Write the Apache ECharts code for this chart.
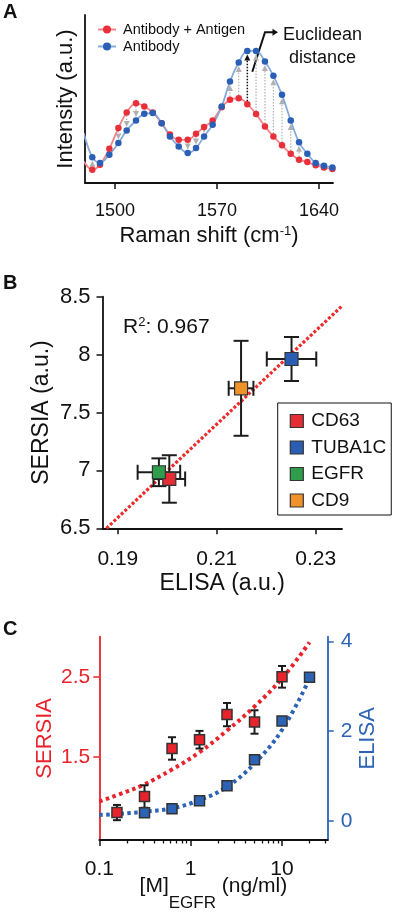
<!DOCTYPE html>
<html><head><meta charset="utf-8">
<script src="https://cdn.jsdelivr.net/npm/echarts@6/dist/echarts.min.js"></script>
<style>html,body{margin:0;padding:0;background:#fff}#chart{width:400px;height:912px}</style>
</head><body><div id="chart"></div><script>
// ---------- Panel A data ----------
const ramanShift = [1478.5, 1484.4, 1489.7, 1496.1, 1502.3, 1508.0, 1514.4, 1520.1, 1525.9, 1532.0, 1537.7, 1543.7, 1549.9, 1555.6, 1561.1, 1567.0, 1573.2, 1578.9, 1584.9, 1590.8, 1596.8, 1602.9, 1608.7, 1614.6, 1620.6, 1626.3, 1632.0, 1637.7, 1643.4, 1649.2];
const antibodyAntigen = [12.9, 7.9, 10.9, 20.4, 32.7, 42.0, 47.5, 45.5, 42.0, 35.6, 28.9, 25.7, 25.7, 29.3, 33.3, 37.2, 45.1, 49.5, 50.5, 46.9, 41.0, 33.7, 27.7, 22.4, 17.4, 13.9, 12.5, 10.5, 9.3, 8.3];
const antibody = [29.7, 15.4, 11.9, 16.8, 23.8, 31.3, 37.2, 41.2, 41.6, 35.6, 27.7, 21.8, 17.8, 20.8, 27.7, 34.7, 45.5, 60.4, 71.7, 78.6, 78.6, 72.3, 63.8, 52.5, 37.2, 24.2, 17.4, 11.9, 10.3, 9.3];
const arrowIdx = [1, 4, 5, 6, 11, 12, 13, 14, 17, 18, 20, 21, 22, 23, 24, 25];
const blackArrowIdx = [19];
const ramanTicks = [1500, 1570, 1640];

// ---------- Panel B data ----------
const markers = ['CD63', 'TUBA1C', 'EGFR', 'CD9'];
const markerColors = ['#e52d35', '#2b5eb3', '#2f9d4b', '#ef9229'];
const elisaB = [0.2004, 0.2251, 0.1983, 0.2149];
const elisaBErr = [0.0032, 0.0050, 0.0043, 0.0025];
const sersiaB = [6.926, 7.962, 6.984, 7.709];
const sersiaBErr = [0.205, 0.19, 0.12, 0.41];
const fitX = [0.1877, 0.2353];
const fitY = [6.5, 8.42];
const elisaTicksB = [0.19, 0.21, 0.23];

// ---------- Panel C data ----------
const conc = [0.156, 0.3125, 0.625, 1.25, 2.5, 5, 10, 20];
const sersiaC = [0.808, 1.008, 1.607, 1.716, 2.029, 1.937, 2.5, null];
const sersiaCErr = [0.095, 0.14, 0.14, 0.11, 0.145, 0.146, 0.135, null];
const elisaC = [null, 0.179, 0.27, 0.447, 0.782, 1.36, 2.228, 3.204];
const fitConc = [0.1, 0.2, 0.3, 0.625, 1.25, 2.5, 5, 10, 20];
const sersiaFit = [0.945, 1.07, 1.15, 1.345, 1.56, 1.83, 2.13, 2.48, 2.93];
const elisaFit = [0.127, 0.165, 0.2, 0.277, 0.46, 0.76, 1.28, 2.03, 3.17];
const decadeTicks = [0.1, 1, 10];
const minorTicksC = [0.2, 0.3, 0.4, 0.5, 0.6, 0.7, 0.8, 0.9, 2, 3, 4, 5, 6, 7, 8, 9, 20, 30];
const sersiaTicksC = [1.5, 2.5];
const elisaTicksC = [0, 2, 4];

const FONT = 'Liberation Sans, Arial, Helvetica, sans-serif';
const BLACK = '#111';
const RED = '#e8232b';
const BLUE = '#2c63b5';
const xMaxC = Math.pow(10, 1.5);

function arrowRenderer(color, dash, width) {
  return function (params, api) {
    const x = api.value(0);
    const p1 = api.coord([x, api.value(1)]);
    const p2 = api.coord([x, api.value(2)]);
    const dir = p2[1] > p1[1] ? 1 : -1;
    const tipY = p2[1] - dir * 3.5;
    const baseY = tipY - dir * 6;
    const startY = p1[1] + dir * 3;
    return {
      type: 'group', children: [
        { type: 'line', shape: { x1: p1[0], y1: startY, x2: p1[0], y2: baseY }, style: { stroke: color, lineWidth: width, lineDash: dash } },
        { type: 'polygon', shape: { points: [[p1[0] - 3, baseY], [p1[0] + 3, baseY], [p1[0], tipY]] }, style: { fill: color } }
      ]
    };
  };
}

function errLine(x1, y1, x2, y2) {
  return { type: 'line', shape: { x1, y1, x2, y2 }, style: { stroke: '#1c1c1c', lineWidth: 2 } };
}

function errRendererB(params, api) {
  const x = api.value(0), y = api.value(1), ex = api.value(2), ey = api.value(3);
  const c = api.coord([x, y]);
  const top = api.coord([x, y + ey])[1], bot = api.coord([x, y - ey])[1];
  const left = api.coord([x - ex, y])[0], right = api.coord([x + ex, y])[0];
  const cap = 7.5;
  return {
    type: 'group', children: [
      errLine(c[0], top, c[0], bot),
      errLine(c[0] - cap, top, c[0] + cap, top),
      errLine(c[0] - cap, bot, c[0] + cap, bot),
      errLine(left, c[1], right, c[1]),
      errLine(left, c[1] - cap, left, c[1] + cap),
      errLine(right, c[1] - cap, right, c[1] + cap)
    ]
  };
}

function errRendererC(params, api) {
  const x = api.value(0), y = api.value(1), ey = api.value(2);
  const c = api.coord([x, y]);
  const top = api.coord([x, y + ey])[1], bot = api.coord([x, y - ey])[1];
  const cap = 4;
  return {
    type: 'group', children: [
      errLine(c[0], top, c[0], bot),
      errLine(c[0] - cap, top, c[0] + cap, top),
      errLine(c[0] - cap, bot, c[0] + cap, bot)
    ]
  };
}

const axisLineStyle = { color: BLACK, width: 1.8 };
const gridCommon = { containLabel: false, outerBoundsMode: 'none' };

const option = {
  animation: false,
  backgroundColor: '#fff',
  textStyle: { fontFamily: FONT, color: BLACK },
  grid: [
    Object.assign({ left: 85, top: 15, width: 248, height: 168 }, gridCommon),
    Object.assign({ left: 102.5, top: 296.7, width: 239.5, height: 231.6 }, gridCommon),
    Object.assign({ left: 99.3, top: 636.7, width: 228.4, height: 203.3 }, gridCommon)
  ],
  legend: [
    {
      data: ['Antibody + Antigen', 'Antibody'], orient: 'vertical', left: 97, top: 22, padding: 0,
      itemWidth: 18, itemHeight: 10, itemGap: 2, selectedMode: false,
      textStyle: { fontSize: 14.5, color: BLACK, lineHeight: 15, padding: [0, 0, 0, 2], fontFamily: FONT }
    },
    {
      data: markers, orient: 'vertical', left: 277.7, top: 403,
      itemWidth: 13, itemHeight: 13, itemGap: 7.5, padding: [8.5, 5, 5, 12],
      borderColor: BLACK, borderWidth: 1, backgroundColor: '#fff', icon: 'rect', selectedMode: false,
      itemStyle: { borderColor: '#333', borderWidth: 1.2 },
      textStyle: { fontSize: 19, color: BLACK, padding: [0, 0, 0, 3], fontFamily: FONT }
    }
  ],
  xAxis: [
    {
      gridIndex: 0, type: 'value', min: 1479.4, max: 1649.6,
      axisLine: { show: true, onZero: false, lineStyle: axisLineStyle },
      axisTick: { show: true, length: 6, customValues: ramanTicks, lineStyle: { color: BLACK, width: 1.5 } },
      axisLabel: { customValues: ramanTicks, fontSize: 18, color: BLACK, margin: 19, formatter: v => String(v) },
      splitLine: { show: false },
      name: '{a|Raman shift (cm}{s|-1}{a|)}', nameLocation: 'middle', nameGap: 42, nameMoveOverlap: false,
      nameTextStyle: { rich: { a: { fontSize: 22, lineHeight: 22, verticalAlign: 'bottom', color: BLACK, fontFamily: FONT }, s: { fontSize: 13, lineHeight: 13, verticalAlign: 'top', color: BLACK, fontFamily: FONT } } }
    },
    {
      gridIndex: 1, type: 'value', min: 0.1869, max: 0.2353,
      axisLine: { show: true, onZero: false, lineStyle: axisLineStyle },
      axisTick: { show: true, length: 6, customValues: elisaTicksB, lineStyle: { color: BLACK, width: 1.5 } },
      axisLabel: { customValues: elisaTicksB, fontSize: 21, color: BLACK, margin: 20 },
      splitLine: { show: false },
      name: 'ELISA (a.u.)', nameLocation: 'middle', nameGap: 44, nameMoveOverlap: false,
      nameTextStyle: { fontSize: 23, color: BLACK }
    },
    {
      gridIndex: 2, type: 'log', logBase: 10, min: 0.1, max: xMaxC,
      axisLine: { show: true, onZero: false, lineStyle: axisLineStyle },
      axisTick: { show: false }, axisLabel: { show: false }, splitLine: { show: false }, minorTick: { show: false },
      name: '{a|[M]}{s|EGFR}{a| (ng/ml)}{sp| }', nameLocation: 'middle', nameGap: 35.5, nameMoveOverlap: false,
      nameTextStyle: { rich: {
        a: { fontSize: 21, lineHeight: 22, verticalAlign: 'top', color: BLACK, fontFamily: FONT },
        s: { fontSize: 17, lineHeight: 17, verticalAlign: 'bottom', color: BLACK, fontFamily: FONT },
        sp: { fontSize: 1, lineHeight: 36, verticalAlign: 'top' }
      } }
    },
    {
      gridIndex: 2, type: 'value', position: 'bottom', min: -1, max: Math.log10(xMaxC),
      axisLine: { show: false, onZero: false },
      axisTick: { show: true, length: 6, customValues: decadeTicks.map(Math.log10), lineStyle: { color: BLACK, width: 1.5 } },
      axisLabel: { customValues: decadeTicks.map(Math.log10), fontSize: 21, color: BLACK, margin: 19, formatter: v => String(Number(Math.pow(10, v).toPrecision(3))) },
      splitLine: { show: false }
    },
    {
      gridIndex: 2, type: 'value', position: 'bottom', min: -1, max: Math.log10(xMaxC),
      axisLine: { show: false, onZero: false },
      axisTick: { show: true, length: 3.5, customValues: minorTicksC.map(Math.log10), lineStyle: { color: BLACK, width: 1.3 } },
      axisLabel: { show: false }, splitLine: { show: false }
    }
  ],
  yAxis: [
    {
      gridIndex: 0, type: 'value', min: 0, max: 100,
      axisLine: { show: true, onZero: false, lineStyle: axisLineStyle },
      axisTick: { show: false }, axisLabel: { show: false }, splitLine: { show: false },
      name: 'Intensity (a.u.)', nameLocation: 'middle', nameGap: 8, nameMoveOverlap: false,
      nameTextStyle: { fontSize: 22, color: BLACK }
    },
    {
      gridIndex: 1, type: 'value', min: 6.5, max: 8.5, interval: 0.5,
      axisLine: { show: true, onZero: false, lineStyle: axisLineStyle },
      axisTick: { show: true, length: 6, lineStyle: { color: BLACK, width: 1.5 } },
      axisLabel: { fontSize: 22, color: BLACK, margin: 12 },
      splitLine: { show: false },
      name: 'SERSIA (a.u.)', nameLocation: 'middle', nameGap: 49.5, nameMoveOverlap: false,
      nameTextStyle: { fontSize: 23, color: BLACK }
    },
    {
      gridIndex: 2, type: 'value', position: 'left', min: 0.466, max: 3.0,
      axisLine: { show: true, onZero: false, lineStyle: { color: RED, width: 1.8 } },
      axisTick: { show: true, length: 6, customValues: sersiaTicksC, lineStyle: { color: RED, width: 1.5 } },
      axisLabel: { customValues: sersiaTicksC, fontSize: 21, color: RED, margin: 9 },
      splitLine: { show: false },
      name: 'SERSIA', nameLocation: 'middle', nameGap: 43, nameMoveOverlap: false,
      nameTextStyle: { fontSize: 22, color: RED }
    },
    {
      gridIndex: 2, type: 'value', position: 'right', min: -0.43, max: 4.11,
      axisLine: { show: true, onZero: false, lineStyle: { color: BLUE, width: 1.8 } },
      axisTick: { show: true, length: 6, customValues: elisaTicksC, lineStyle: { color: BLUE, width: 1.5 } },
      axisLabel: { customValues: elisaTicksC, fontSize: 21, color: BLUE, margin: 13 },
      splitLine: { show: false },
      name: 'ELISA', nameLocation: 'middle', nameGap: 29, nameRotate: 90, nameMoveOverlap: false,
      nameTextStyle: { fontSize: 22, color: BLUE }
    }
  ],
  graphic: [
    { type: 'text', left: 3, top: 2, style: { text: 'A', fontSize: 20, fontWeight: 'bold', fill: BLACK, fontFamily: FONT } },
    { type: 'text', left: 3, top: 273, style: { text: 'B', fontSize: 20, fontWeight: 'bold', fill: BLACK, fontFamily: FONT } },
    { type: 'text', left: 3, top: 619, style: { text: 'C', fontSize: 20, fontWeight: 'bold', fill: BLACK, fontFamily: FONT } },
    { type: 'text', x: 322.5, y: 24, style: { text: 'Euclidean\ndistance', fontSize: 18, lineHeight: 23, align: 'center', fill: BLACK, fontFamily: FONT } },
    { type: 'polyline', shape: { points: [[252.3, 71.7], [265, 32.3], [273.5, 32.3]] }, style: { stroke: BLACK, lineWidth: 2, fill: null } },
    { type: 'polygon', shape: { points: [[272.5, 28.8], [278, 32.3], [272.5, 35.8]] }, style: { fill: BLACK } },
    {
      type: 'text', x: 123, y: 316,
      style: {
        text: '{a|R}{s|2}{a|: 0.967}', fontFamily: FONT,
        rich: { a: { fontSize: 21, lineHeight: 22, verticalAlign: 'bottom', fill: BLACK, fontFamily: FONT }, s: { fontSize: 13, lineHeight: 13, verticalAlign: 'top', fill: BLACK, fontFamily: FONT } }
      }
    }
  ],
  series: [
    // Panel A
    {
      type: 'custom', name: 'arrows', xAxisIndex: 0, yAxisIndex: 0, z: 1,
      renderItem: arrowRenderer('#b0b0b0', [1.5, 1.5], 1.2),
      data: arrowIdx.map(i => [ramanShift[i], antibodyAntigen[i], antibody[i]])
    },
    {
      type: 'custom', name: 'arrowBlack', xAxisIndex: 0, yAxisIndex: 0, z: 1,
      renderItem: arrowRenderer('#111', [1.5, 1.5], 1.5),
      data: blackArrowIdx.map(i => [ramanShift[i], antibodyAntigen[i], antibody[i]])
    },
    {
      type: 'line', name: 'Antibody + Antigen', xAxisIndex: 0, yAxisIndex: 0, z: 3,
      data: ramanShift.map((x, i) => [x, antibodyAntigen[i]]),
      smooth: 0.35, symbol: 'circle', symbolSize: 6.5, clip: true,
      lineStyle: { color: '#f2848b', width: 1.8 }, itemStyle: { color: '#e8303b' }
    },
    {
      type: 'line', name: 'Antibody', xAxisIndex: 0, yAxisIndex: 0, z: 3,
      data: ramanShift.map((x, i) => [x, antibody[i]]),
      smooth: 0.35, symbol: 'circle', symbolSize: 6.5, clip: true,
      lineStyle: { color: '#87aadd', width: 1.8 }, itemStyle: { color: '#2a5fb6' }
    },
    // Panel B
    {
      type: 'line', name: 'fitB', xAxisIndex: 1, yAxisIndex: 1, z: 1,
      data: fitX.map((x, i) => [x, fitY[i]]), symbol: 'none',
      lineStyle: { color: '#ee2a2a', width: 3.2, type: [3, 2] }
    },
    {
      type: 'custom', name: 'errB', xAxisIndex: 1, yAxisIndex: 1, z: 2,
      renderItem: errRendererB,
      data: markers.map((m, i) => [elisaB[i], sersiaB[i], elisaBErr[i], sersiaBErr[i]])
    },
    ...markers.map((m, i) => ({
      type: 'scatter', name: m, xAxisIndex: 1, yAxisIndex: 1, z: 3,
      symbol: 'rect', symbolSize: 13,
      itemStyle: { color: markerColors[i], borderColor: '#333', borderWidth: 1.2, opacity: 1 },
      data: [[elisaB[i], sersiaB[i]]]
    })),
    // Panel C
    {
      type: 'line', name: 'fitSERSIA', xAxisIndex: 2, yAxisIndex: 2, z: 1,
      data: fitConc.map((x, i) => [x, sersiaFit[i]]), symbol: 'none', smooth: 0.4,
      lineStyle: { color: RED, width: 4, type: [3.5, 3.5] }
    },
    {
      type: 'line', name: 'fitELISA', xAxisIndex: 2, yAxisIndex: 3, z: 1,
      data: fitConc.map((x, i) => [x, elisaFit[i]]), symbol: 'none', smooth: 0.4,
      lineStyle: { color: BLUE, width: 4, type: [3.5, 3.5] }
    },
    {
      type: 'custom', name: 'errC', xAxisIndex: 2, yAxisIndex: 2, z: 2,
      renderItem: errRendererC,
      data: conc.map((x, i) => [x, sersiaC[i], sersiaCErr[i]]).filter(d => d[1] !== null)
    },
    {
      type: 'scatter', name: 'ELISA C', xAxisIndex: 2, yAxisIndex: 3, z: 3,
      symbol: 'rect', symbolSize: 10,
      itemStyle: { color: BLUE, borderColor: '#333', borderWidth: 1.5, opacity: 1 },
      data: conc.map((x, i) => [x, elisaC[i]]).filter(d => d[1] !== null)
    },
    {
      type: 'scatter', name: 'SERSIA C', xAxisIndex: 2, yAxisIndex: 2, z: 4,
      symbol: 'rect', symbolSize: 10,
      itemStyle: { color: RED, borderColor: '#333', borderWidth: 1.5, opacity: 1 },
      data: conc.map((x, i) => [x, sersiaC[i]]).filter(d => d[1] !== null)
    }
  ]
};

const chart = echarts.init(document.getElementById('chart'), null, { renderer: 'canvas', width: 400, height: 912 });
chart.setOption(option);
</script></body></html>
